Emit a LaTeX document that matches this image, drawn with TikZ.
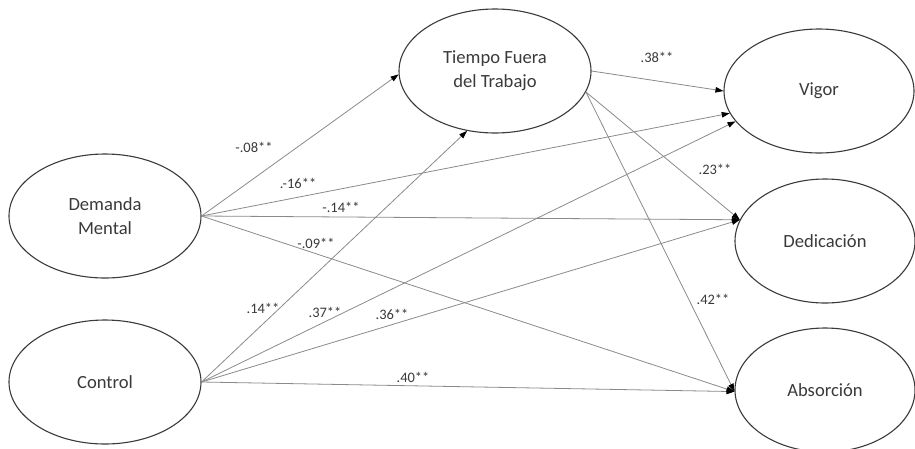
\documentclass[tikz,border=0pt]{standalone}
\usepackage{fontspec}
\setmainfont{Carlito}
\usetikzlibrary{arrows.meta,shapes.geometric}
\definecolor{edgegray}{HTML}{8A8A8A}
\definecolor{inkgray}{HTML}{3A3A3A}
\tikzset{
  latent/.style={ellipse, draw=inkgray, line width=1.1pt, inner sep=0pt,
    minimum width=#1, minimum height=124pt, align=center, text=inkgray,
    font=\fontsize{18.6}{24}\selectfont},
  latent/.default=192pt,
  path/.style={draw=edgegray, line width=0.8pt,
    -{Triangle[length=8pt,width=5.5pt,color=black]}},
  coef/.style={text=inkgray, inner sep=0pt, font=\fontsize{14.5}{16}\selectfont}
}
\begin{document}
\begin{tikzpicture}[x=1pt,y=-1pt]
\useasboundingbox (0,0) rectangle (915,448);
% nodes
\node[latent] (dm)  at (105,216) {Demanda\\Mental};
\node[latent] (ctl) at (105,382) {Control};
\node[latent] (tf)  at (495,71)  {Tiempo Fuera\\del Trabajo};
\node[latent=190pt] (vig) at (819,91)  {Vigor};
\node[latent=180pt] (ded) at (825,241) {Dedicación};
\node[latent=180pt] (abs) at (825,390) {Absorción};
% paths
\draw[path] (dm.east) -- (tf.182);
\draw[path] (dm.east) -- (vig.194);
\draw[path] (dm.east) -- (ded.166);
\draw[path] (dm.east) -- (abs.181);
\draw[path] (ctl.east) -- (tf.245);
\draw[path] (ctl.east) -- (vig.200);
\draw[path] (ctl.east) -- (ded.166);
\draw[path] (ctl.east) -- (abs.181);
\draw[path] (tf.east) -- (vig.west);
\draw[path] (tf.-13) -- (ded.166);
\draw[path] (tf.-13) -- (abs.181);
% coefficients
\node[coef] (c1)  at (254,147) {-.08**};
\node[coef] (c2)  at (298,183) {.-16**};
\node[coef] (c3)  at (341,207) {-.14**};
\node[coef] (c4)  at (316,243) {-.09**};
\node[coef] (c5)  at (263,308) {.14**};
\node[coef] (c6)  at (325,312) {.37**};
\node[coef] (c7)  at (392,314) {.36**};
\node[coef] (c8)  at (413,377) {.40**};
\node[coef] (c9)  at (657,57)  {.38**};
\node[coef] (c10) at (715,169) {.23**};
\node[coef] (c11) at (713,299) {.42**};
\end{tikzpicture}
\end{document}
